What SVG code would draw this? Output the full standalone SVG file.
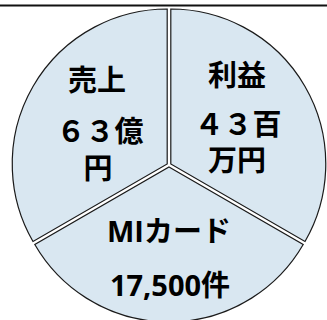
<svg xmlns="http://www.w3.org/2000/svg" width="327" height="320" viewBox="0 0 327 320">
<style>
.sec{fill:#d9e7f1;stroke:#1a1a1a;stroke-width:1.2}
.t{font-family:"Noto Sans CJK JP","Noto Sans",sans-serif;font-weight:bold;font-size:29px;fill:#000;text-anchor:middle}
.l{font-family:"Open Sans","Noto Sans CJK JP",sans-serif}
</style>
<rect width="327" height="320" fill="#fff"/>
<line x1="0" y1="5.5" x2="327" y2="5.5" stroke="#111" stroke-width="2.2"/>
<g id="connectors"></g>
<g id="sales">
<path class="sec" transform="translate(-1.8,-1)" d="M169,165 L169,10 A155,155 0 0 0 34.8,242.5 Z"/>
<text class="t" x="97" y="91">売上</text>
<text class="t" x="100" y="142">６３億</text>
<text class="t" x="98" y="179">円</text>
</g>
<g id="profit">
<path class="sec" transform="translate(1.8,-1)" d="M169,165 L169,10 A155,155 0 0 1 303.2,242.5 Z"/>
<text class="t" x="237" y="86">利益</text>
<text class="t" x="238" y="135">４３百</text>
<text class="t" x="237" y="171">万円</text>
</g>
<g id="card">
<path class="sec" transform="translate(0,2)" d="M169,165 L303.2,242.5 A155,155 0 0 1 34.8,242.5 Z"/>
<text class="t" x="169" y="242"><tspan class="l">MI</tspan>カード</text>
<text class="t" x="170" y="296"><tspan class="l">17,500</tspan>件</text>
</g>
</svg>
